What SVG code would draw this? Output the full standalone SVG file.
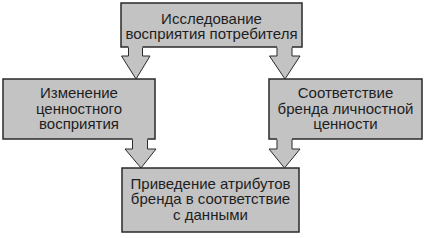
<svg xmlns="http://www.w3.org/2000/svg" width="427" height="238" viewBox="0 0 427 238">
<style>
.box{fill:#c3c3c3;stroke:#2a2a2a;stroke-width:1.5}
.af{fill:#c3c3c3;stroke:none}
.as{fill:none;stroke:#2a2a2a;stroke-width:1;stroke-linejoin:miter}
text{font-family:"Liberation Sans",Arial,sans-serif;font-size:15px;fill:#1e1e1e;text-anchor:middle}
</style>
<rect width="427" height="238" fill="#ffffff"/>
<g id="n1"><rect class="box" x="121" y="3" width="181" height="44"/><text x="211.5" y="23.5">Исследование</text><text x="211.5" y="38.5">восприятия потребителя</text></g>
<g id="n2"><rect class="box" x="3" y="79" width="152" height="60"/><text x="79" y="98">Изменение</text><text x="79" y="113.5">ценностного</text><text x="79" y="129">восприятия</text></g>
<g id="n3"><rect class="box" x="269" y="79" width="153" height="60"/><text x="345.5" y="98">Соответствие</text><text x="345.5" y="113.5">бренда личностной</text><text x="345.5" y="129">ценности</text></g>
<g id="n4"><rect class="box" x="122" y="168" width="177" height="64"/><text x="210.5" y="188.5">Приведение атрибутов</text><text x="210.5" y="204">бренда в соответствие</text><text x="210.5" y="219.5">с данными</text></g>
<g id="connectors">
<polygon class="af" points="128.5,46 142.5,46 142.5,56 150,56 136,79 121.5,56 128.5,56"/>
<polyline class="as" points="128.5,47.5 128.5,56 121.5,56 136,79 150,56 142.5,56 142.5,47.5"/>
<polygon class="af" points="277,46 292,46 292,56 300,56 285,79 269.5,56 277,56"/>
<polyline class="as" points="277,47.5 277,56 269.5,56 285,79 300,56 292,56 292,47.5"/>
<polygon class="af" points="132.5,138 147.5,138 147.5,149 156,149 141,168 125,149 132.5,149"/>
<polyline class="as" points="132.5,139.5 132.5,149 125,149 141,168 156,149 147.5,149 147.5,139.5"/>
<polygon class="af" points="277,138 292,138 292,149 300,149 284.5,168 269,149 277,149"/>
<polyline class="as" points="277,139.5 277,149 269,149 284.5,168 300,149 292,149 292,139.5"/>
</g>
</svg>
